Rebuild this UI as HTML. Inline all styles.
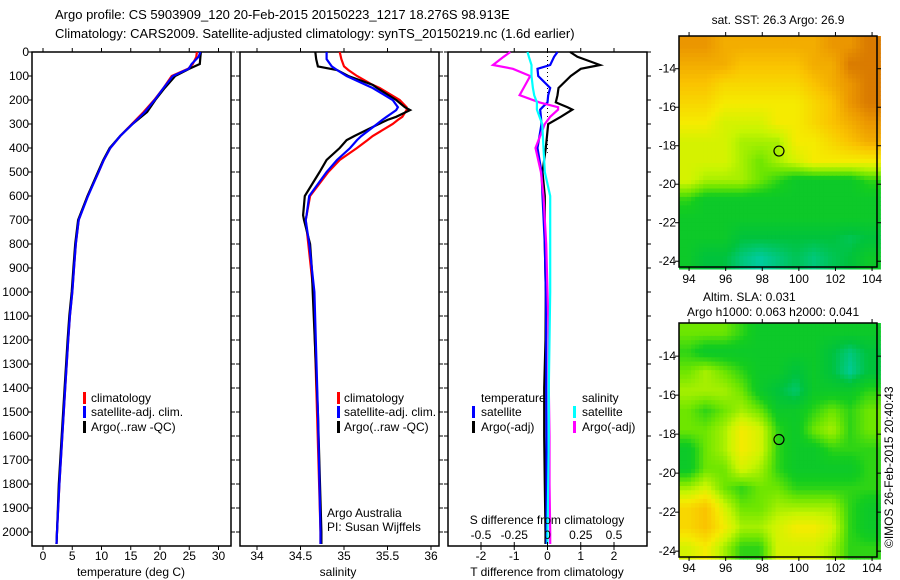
<!DOCTYPE html>
<html><head><meta charset="utf-8">
<style>
html,body{margin:0;padding:0;background:#fff}
svg{display:block;font-family:"Liberation Sans",Arial,sans-serif}
text{font-size:12px;fill:#000}
</style></head>
<body>
<svg id="fig" width="900" height="580" viewBox="0 0 900 580">
<text x="55" y="19" style="font-size:13px">Argo profile: CS 5903909_120 20-Feb-2015 20150223_1217 18.276S 98.913E</text>
<text x="55" y="38" style="font-size:13px">Climatology: CARS2009. Satellite-adjusted climatology: synTS_20150219.nc (1.6d earlier)</text>
<g id="p1"></g>
<g id="p2"></g>
<g id="p3"></g>
<g id="m1"></g>
<g id="m2"></g>
<text transform="translate(893,548) rotate(-90)">©IMOS 26-Feb-2015 20:40:43</text>
</svg>
<script>
// ---- data ----
const tDepth=[0,20,50,70,100,150,200,250,300,350,400,450,500,600,700,800,900,1000,1100,1200,1400,1600,1800,2000,2050];
const tClim=[26.3,26.2,25.6,24.8,22,20.6,19,17.2,15.2,13.2,11.5,10.4,9.5,7.6,6.1,5.6,5.3,5,4.6,4.3,3.8,3.3,2.8,2.4,2.3];
const tSat=[26.9,26.6,25.4,24.9,22.2,20.6,19.1,17.4,15.3,13.2,11.5,10.4,9.5,7.7,6.1,5.6,5.3,5,4.6,4.3,3.8,3.3,2.8,2.4,2.3];
const tArgo=[27,26.9,26.8,25,22.6,20.8,19.2,17.8,15.3,13.2,11.4,10.3,9.4,7.6,6,5.5,5.2,4.9,4.5,4.2,3.7,3.2,2.7,2.4,2.3];
const sDepth=[0,30,60,75,100,137,150,200,230,242,270,283,300,350,367,400,450,500,600,680,700,800,900,1000,1500,2000,2050];
const sClim=[34.95,34.97,35,35.05,35.15,35.33,35.41,35.64,35.72,35.72,35.67,35.62,35.56,35.33,35.27,35.15,34.95,34.82,34.61,34.57,34.56,34.59,34.62,34.65,34.69,34.73,34.73];
const sSat=[34.8,34.8,34.86,34.92,35.03,35.25,35.33,35.56,35.62,35.6,35.49,35.44,35.38,35.2,35.15,35.07,34.92,34.8,34.6,34.57,34.56,34.6,34.63,34.66,34.7,34.73,34.73];
const sArgo=[34.67,34.68,34.7,34.92,35.05,35.33,35.38,35.6,35.7,35.76,35.6,35.5,35.4,35.12,35.03,34.95,34.8,34.72,34.55,34.53,34.54,34.61,34.63,34.64,34.7,34.74,34.74];
const dDepth=[0,20,54,70,100,150,180,210,230,240,270,300,400,500,600,800,1000,1200,1400,1600,1800,2000,2050];
const dTSat=[0.3,0.2,0.08,-0.3,-0.28,0.08,0.02,0,-0.15,-0.22,-0.2,-0.18,-0.3,-0.18,-0.15,-0.08,-0.05,-0.04,-0.04,-0.03,-0.03,-0.03,-0.03];
const dTArgo=[0.68,0.9,1.58,1.0,0.7,0.33,0.3,0.25,0.6,0.75,0.4,0.02,-0.05,-0.15,-0.08,-0.08,-0.05,-0.06,-0.1,-0.1,-0.08,-0.06,-0.06];
const dSSat=[-0.15,-0.14,-0.12,-0.12,-0.12,-0.11,-0.1,-0.08,-0.08,-0.08,-0.06,-0.04,-0.03,-0.02,0.02,0.02,0.02,0.015,0.01,0.01,0.005,0,0];
const dSArgo=[-0.28,-0.33,-0.41,-0.26,-0.13,-0.18,-0.21,-0.06,0.08,0.08,0.02,-0.02,-0.09,-0.05,-0.03,-0.01,0,0.01,0.01,0.015,0.015,0.02,0.02];
const depthTicks=[0,100,200,300,400,500,600,700,800,900,1000,1100,1200,1300,1400,1500,1600,1700,1800,1900,2000];
const tTicks=[0,5,10,15,20,25,30];
const sTicks=[34,34.5,35,35.5,36];
const dTTicks=[-2,-1,0,1,2];
const dSTickVals=[-0.5,-0.25,0,0.25,0.5];
const dSTickLabels=["-0.5","-0.25","0","0.25","0.5"];
const lonTicks=[94,96,98,100,102,104];
const latTicks=[-14,-16,-18,-20,-22,-24];
const sstGrid=[
[9,9,8.5,8.5,8.5,8.5,8.5,8.5,9,9,9.5],
[8.5,8.5,8.5,8,8,8,8,8.5,8.5,9.5,9.5],
[8,8,7.5,7.5,7.5,7.5,7.5,8,8.5,9,9.5],
[7.5,7.5,7,7,7,7,7,7.5,8,9,9.5],
[7,7,6.5,6.5,6.5,7,7,7.5,8,8.5,9],
[6.5,6.5,6.5,6,6,6,7,7,7.5,8,8.5],
[6.5,6.5,6.5,6,5.5,6,6.5,7,7,7,7],
[6.5,6,6,6,5.5,5,4.5,4.5,4.5,4.5,5],
[5,4.5,4.5,4.5,4.5,4.5,4.5,4.5,4.5,4.5,4.5],
[4.5,4.5,4.5,4.5,4.5,4.5,4.5,4.5,4.5,4.5,4.5],
[4.5,4.5,4.5,4,4,4,4,4,4,3.8,4],
[4.5,4,4,3.5,3.2,3.5,3.8,3.5,3.8,4,4.5]];
const slaGrid=[
[5.5,5.5,5.5,5,4.5,4.5,4.5,4.5,4.5,4.5,4.5],
[5,4.5,4.5,4.5,4.5,4.5,4.5,4.5,4,3.5,4],
[5.5,6,5.5,5,4.5,4.5,4,4.5,4,3.3,4],
[6,6,6,5.5,4.5,4,3.6,4.5,4.5,4.5,5],
[5.5,5,5.5,6,5.5,4.5,4.5,5,5.5,5,5.5],
[5.5,5.5,6,7,6.5,5,4.5,5.5,6,5,5.5],
[4.5,5.5,6,7,6.5,5,4.5,4.5,5,5,5],
[4.5,5.5,5.5,6.5,6,5,4.5,4.5,4.5,4.5,5],
[6,6.5,5.5,5,5.5,5.5,5,5,5,5,5],
[7.5,8,6.5,5.5,5.5,6,6,6,6,5,4.5],
[7.5,8,7,6,6,6.5,7,7,6.5,5,4.5],
[6.5,7,6,5,5,6.5,6.5,6.5,6,5,5]];
const argoLon=98.913, argoLat=-18.276;

// ---- helpers ----
const NS="http://www.w3.org/2000/svg";
function mk(tag,parent,attrs){const e=document.createElementNS(NS,tag);for(const k in attrs)e.setAttribute(k,attrs[k]);parent.appendChild(e);return e;}
function lin(d0,d1,r0,r1){return v=>r0+(v-d0)*(r1-r0)/(d1-d0);}
const Y=lin(0,2000,52,532);
const TOP=52,BOT=546;

function frame(g,x0,x1){const r=mk('rect',g,{x:x0,y:TOP,width:x1-x0,height:BOT-TOP,fill:'none',stroke:'#000','stroke-width':1.5});
}
function line(g,xs,ds,X,col,name){const pts=xs.map((v,i)=>X(v).toFixed(1)+','+Y(ds[i]).toFixed(1)).join(' ');
const p=mk('polyline',g,{points:pts,fill:'none',stroke:col,'stroke-width':2.2,'stroke-linejoin':'miter'});
}
function xticks(g,vals,labels,X,yl){vals.forEach((v,i)=>{const x=X(v);
mk('line',g,{x1:x,x2:x,y1:BOT,y2:BOT+4,stroke:'#000'});mk('line',g,{x1:x,x2:x,y1:TOP,y2:TOP-4,stroke:'#000'});
const t=mk('text',g,{x:x,y:yl,'text-anchor':'middle'});t.textContent=labels[i];
});}
function yticks(g,x0,x1){depthTicks.forEach(d=>{const y=Y(d);
mk('line',g,{x1:x0-4,x2:x0,y1:y,y2:y,stroke:'#000'});mk('line',g,{x1:x1,x2:x1+4,y1:y,y2:y,stroke:'#000'});});}
function txt(g,x,y,s,name,anchor){const t=mk('text',g,{x:x,y:y,'text-anchor':anchor||'start'});t.textContent=s;
return t;}
function mark(g,x,y,col){const r=mk('rect',g,{x:x,y:y-10,width:3,height:12,fill:col});
}

// ---- panel 1 temperature ----
const p1=document.getElementById('p1');
const X1=lin(0,30,43,218.5);
frame(p1,32,231);yticks(p1,32,231);
depthTicks.forEach(d=>{txt(p1,29,Y(d)+4,String(d),'y-tick-label','end');});
xticks(p1,tTicks,tTicks.map(String),X1,560);
line(p1,tClim,tDepth,X1,'#f00','temp-climatology-line');
line(p1,tArgo,tDepth,X1,'#000','temp-argo-line');
line(p1,tSat,tDepth,X1,'#00f','temp-satellite-line');
txt(p1,131,576,'temperature (deg C)','x-axis-title','middle');
mark(p1,83,402,'#f00');txt(p1,91,402,'climatology','legend-entry');
mark(p1,83,416,'#00f');txt(p1,91,416,'satellite-adj. clim.','legend-entry');
mark(p1,83,431,'#000');txt(p1,91,431,'Argo(..raw -QC)','legend-entry');

// ---- panel 2 salinity ----
const p2=document.getElementById('p2');
const X2=lin(34,36,257,431);
frame(p2,240,439);yticks(p2,240,439);
xticks(p2,sTicks,sTicks.map(String),X2,560);
line(p2,sClim,sDepth,X2,'#f00','sal-climatology-line');
line(p2,sArgo,sDepth,X2,'#000','sal-argo-line');
line(p2,sSat,sDepth,X2,'#00f','sal-satellite-line');
txt(p2,338,576,'salinity','x-axis-title','middle');
mark(p2,337,402,'#f00');txt(p2,344,402,'climatology','legend-entry');
mark(p2,337,416,'#00f');txt(p2,344,416,'satellite-adj. clim.','legend-entry');
mark(p2,337,431,'#000');txt(p2,344,431,'Argo(..raw -QC)','legend-entry');
txt(p2,327,517,'Argo Australia','credit-text');
txt(p2,327,531,'PI: Susan Wijffels','credit-text');

// ---- panel 3 differences ----
const p3=document.getElementById('p3');
const X3=lin(-2,2,481,614);
const XS=lin(-0.5,0.5,481,614);
frame(p3,448,647);yticks(p3,448,647);
xticks(p3,dTTicks,dTTicks.map(String),X3,560);
mk('line',p3,{x1:X3(0),x2:X3(0),y1:TOP,y2:Y(420),stroke:'#000','stroke-dasharray':'1,3'});
line(p3,dTArgo,dDepth,X3,'#000','tdiff-argo-line');
line(p3,dTSat,dDepth,X3,'#00f','tdiff-satellite-line');
line(p3,dSArgo,dDepth,XS,'#f0f','sdiff-argo-line');
line(p3,dSSat,dDepth,XS,'#0ff','sdiff-satellite-line');
dSTickVals.forEach((v,i)=>{const x=XS(v);mk('line',p3,{x1:x,x2:x,y1:BOT-4,y2:BOT,stroke:'#000'});
txt(p3,x,539,dSTickLabels[i],'s-tick-label','middle');});
txt(p3,547,524,'S difference from climatology','s-axis-title','middle');
txt(p3,547,576,'T difference from climatology','x-axis-title','middle');
txt(p3,481,402,'temperature','legend-header');
mark(p3,472,416,'#00f');txt(p3,481,416,'satellite','legend-entry');
mark(p3,472,431,'#000');txt(p3,481,431,'Argo(-adj)','legend-entry');
txt(p3,582,402,'salinity','legend-header');
mark(p3,573,416,'#0ff');txt(p3,582,416,'satellite','legend-entry');
mark(p3,573,431,'#f0f');txt(p3,582,431,'Argo(-adj)','legend-entry');

// ---- maps ----
const stops=[[0,[0,0,140]],[2,[0,100,255]],[3,[0,205,185]],[4,[0,195,60]],[4.8,[20,205,30]],[5.5,[110,230,0]],[6.3,[200,245,0]],[7,[245,235,0]],[8,[250,195,0]],[9,[235,150,0]],[10,[200,95,0]]];
function cmap(v){v=Math.max(0,Math.min(10,v));for(let i=1;i<stops.length;i++){if(v<=stops[i][0]){const a=stops[i-1],b=stops[i];const f=(v-a[0])/(b[0]-a[0]);
return 'rgb('+a[1].map((c,k)=>Math.round(c+(b[1][k]-c)*f)).join(',')+')';}}return 'rgb(200,95,0)';}
const LON0=93.45,LON1=104.27,LAT0=-12.3,LAT1=-24.3;
function sample(grid,lon,lat){const gx=(lon-LON0)/(LON1-LON0)*grid[0].length-0.5,gy=(LAT0-lat)/(LAT0-LAT1)*grid.length-0.5;
const x0=Math.max(0,Math.min(grid[0].length-1,Math.floor(gx))),y0=Math.max(0,Math.min(grid.length-1,Math.floor(gy)));
const x1=Math.min(grid[0].length-1,x0+1),y1=Math.min(grid.length-1,y0+1);
const fx=Math.max(0,Math.min(1,gx-x0)),fy=Math.max(0,Math.min(1,gy-y0));
return (grid[y0][x0]*(1-fx)+grid[y0][x1]*fx)*(1-fy)+(grid[y1][x0]*(1-fx)+grid[y1][x1]*fx)*fy;}
function drawMap(g,grid,top,bot,lonLabelY){
const MX=lin(LON0,LON1,679,877),MY=lin(LAT0,LAT1,top,bot);
const step=0.22;
for(let lat=LAT0;lat>LAT1-1e-6;lat-=step){for(let lon=LON0;lon<LON1-1e-6;lon+=step){
const c=mk('rect',g,{x:MX(lon).toFixed(1),y:MY(lat).toFixed(1),width:(MX(lon+step)-MX(lon)+0.6).toFixed(1),height:(MY(lat-step)-MY(lat)+0.6).toFixed(1),fill:cmap(sample(grid,lon+step/2,lat-step/2))});
}}
const r=mk('rect',g,{x:679,y:top,width:198,height:bot-top,fill:'none',stroke:'#000','stroke-width':1.5});

lonTicks.forEach(v=>{const x=MX(v);mk('line',g,{x1:x,x2:x,y1:top-4,y2:top,stroke:'#000'});mk('line',g,{x1:x,x2:x,y1:bot,y2:bot+4,stroke:'#000'});
txt(g,x,lonLabelY,String(v),'lon-tick-label','middle');});
latTicks.forEach(v=>{const y=MY(v);mk('line',g,{x1:675,x2:679,y1:y,y2:y,stroke:'#000'});mk('line',g,{x1:877,x2:881,y1:y,y2:y,stroke:'#000'});
txt(g,676,y+4,String(v),'lat-tick-label','end');});
const c=mk('circle',g,{cx:MX(argoLon),cy:MY(argoLat),r:5,fill:'none',stroke:'#000','stroke-width':1.2});
}
const m1=document.getElementById('m1'),m2=document.getElementById('m2');
drawMap(m1,sstGrid,36,267,283);
txt(m1,778,24,'sat. SST: 26.3 Argo: 26.9','map-title','middle');
drawMap(m2,slaGrid,323,557,572);
txt(m2,703,301,'Altim. SLA: 0.031','map-title');
txt(m2,687,316,'Argo h1000: 0.063 h2000: 0.041','map-subtitle');
</script>
</body></html>
